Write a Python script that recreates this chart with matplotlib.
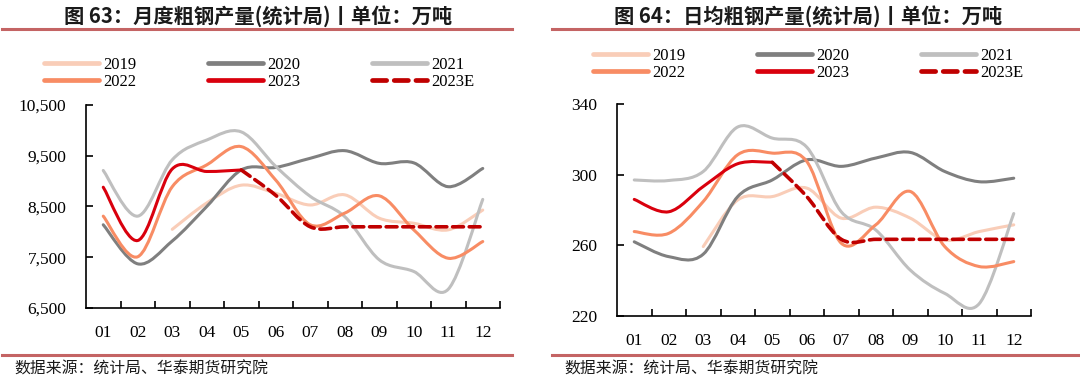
import matplotlib
matplotlib.use('Agg')
import matplotlib.pyplot as plt
from matplotlib.path import Path
from matplotlib.patches import PathPatch
from matplotlib.lines import Line2D
from matplotlib.ticker import FuncFormatter

# ---- data ----
months = ['01', '02', '03', '04', '05', '06', '07', '08', '09', '10', '11', '12']

# 月度粗钢产量 (万吨)
m2019 = [None, None, 8050, 8570, 8920, 8760, 8530, 8730, 8270, 8170, 8040, 8430]
m2020 = [8140, 7370, 7820, 8500, 9220, 9270, 9450, 9600, 9350, 9360, 8890, 9250]
m2021 = [9210, 8310, 9420, 9810, 9970, 9290, 8700, 8300, 7450, 7220, 6870, 8640]
m2022 = [8310, 7510, 8890, 9320, 9680, 9020, 8140, 8370, 8710, 8040, 7480, 7810]
m2023 = [8880, 7830, 9240, 9190, 9220, None, None, None, None, None, None, None]
m2023e = [None, None, None, None, 9220, 8720, 8100, 8100, 8100, 8100, 8100, 8100]

# 日均粗钢产量 (万吨)
d2019 = [None, None, 259.3, 285.7, 287.6, 292.4, 275.4, 281.6, 275.4, 263.0, 267.8, 271.6]
d2020 = [262.0, 253.6, 255.0, 287.6, 297.0, 308.4, 304.7, 309.4, 312.6, 301.8, 296.0, 298.0]
d2021 = [297.0, 296.7, 301.8, 327.0, 320.7, 315.6, 279.0, 268.7, 246.0, 232.8, 227.0, 278.0]
d2022 = [267.8, 266.8, 284.8, 311.3, 312.2, 307.5, 261.2, 271.6, 290.5, 259.3, 248.0, 250.8]
d2023 = [286.0, 279.0, 293.3, 306.2, 307.0, None, None, None, None, None, None, None]
d2023e = [None, None, None, None, 307.0, 287.6, 263.4, 263.4, 263.4, 263.4, 263.4, 263.4]

labels = ['2019', '2020', '2021', '2022', '2023', '2023E']
colors = ['#F9CDB8', '#7F7F7F', '#BFBFBF', '#F88C64', '#D9000D', '#C00000']
styles = ['-', '-', '-', '-', '-', (0, (3.0, 1.6))]

CJK = ['Noto Sans CJK SC', 'DejaVu Sans']
SERIF = 'Liberation Serif'
RULE = '#C46464'


def smooth_path(vals):
    # Excel-style smoothed line: cubic bezier through the points
    pts = [(i + 1, v) for i, v in enumerate(vals) if v is not None]
    verts = [pts[0]]
    codes = [Path.MOVETO]
    n = len(pts)
    for i in range(n - 1):
        p0 = pts[max(i - 1, 0)]
        p1 = pts[i]
        p2 = pts[i + 1]
        p3 = pts[min(i + 2, n - 1)]
        c1 = (p1[0] + (p2[0] - p0[0]) / 6, p1[1] + (p2[1] - p0[1]) / 6)
        c2 = (p2[0] - (p3[0] - p1[0]) / 6, p2[1] - (p3[1] - p1[1]) / 6)
        verts += [c1, c2, p2]
        codes += [Path.CURVE4] * 3
    return Path(verts, codes)


def draw_panel(ax, series, ylim, yticks, fmt):
    for vals, c, ls in zip(series, colors, styles):
        lw = 2.6 if ls != '-' else 2.2
        ax.add_patch(PathPatch(smooth_path(vals), facecolor='none', edgecolor=c,
                               lw=lw, linestyle=ls, capstyle='round', joinstyle='round'))
    ax.set_xlim(0.5, 12.5)
    ax.set_ylim(*ylim)
    ax.set_yticks(yticks)
    ax.yaxis.set_major_formatter(FuncFormatter(fmt))
    ax.set_xticks(range(1, 13))
    ax.set_xticklabels(months)
    ax.set_xticks([x + 0.5 for x in range(1, 13)], minor=True)
    ax.tick_params(axis='x', which='major', length=0, pad=12)
    ax.tick_params(axis='x', which='minor', direction='in', length=5, width=1.2)
    ax.tick_params(axis='y', direction='in', length=5, width=1.2, pad=14)
    for s in ['top', 'right']:
        ax.spines[s].set_visible(False)
    for s in ['left', 'bottom']:
        ax.spines[s].set_linewidth(1.2)
    for t in ax.get_xticklabels() + ax.get_yticklabels():
        t.set_fontfamily(SERIF)
        t.set_fontsize(12.5)


def legend(fig, ax, anchor):
    handles = [Line2D([0], [0], color=c, lw=3.4, linestyle=ls,
                      solid_capstyle='round', dash_capstyle='round')
               for c, ls in zip(colors, styles)]
    order = [0, 3, 1, 4, 2, 5]
    ax.legend([handles[i] for i in order], [labels[i] for i in order], ncol=3,
              loc='upper left', bbox_to_anchor=anchor, bbox_transform=fig.transFigure,
              frameon=False, handlelength=3.3, handletextpad=0.25, columnspacing=4.3,
              labelspacing=0.08, borderpad=0, borderaxespad=0,
              prop={'family': SERIF, 'size': 12})


fig = plt.figure(figsize=(10.8, 3.8), dpi=100)

ax1 = fig.add_axes([86 / 1080, 1 - 308 / 380, 414 / 1080, 203 / 380])
draw_panel(ax1, [m2019, m2020, m2021, m2022, m2023, m2023e],
           (6500, 10500), [6500, 7500, 8500, 9500, 10500], lambda v, p: f'{v:,.0f}')
legend(fig, ax1, (44 / 1080, 1 - 57 / 380))

ax2 = fig.add_axes([617 / 1080, 1 - 316 / 380, 414 / 1080, 212 / 380])
draw_panel(ax2, [d2019, d2020, d2021, d2022, d2023, d2023e],
           (220, 340), [220, 260, 300, 340], lambda v, p: f'{v:.0f}')
legend(fig, ax2, (593 / 1080, 1 - 48 / 380))

# titles, rules and source notes
fig.text(258 / 1080, 1 - 16 / 380, '图 63：月度粗钢产量(统计局)丨单位：万吨', ha='center', va='center',
         family=CJK, fontsize=14.6, fontweight='bold', color='#1a1a1a')
fig.text(808 / 1080, 1 - 16 / 380, '图 64：日均粗钢产量(统计局)丨单位：万吨', ha='center', va='center',
         family=CJK, fontsize=14.6, fontweight='bold', color='#1a1a1a')
for x0, x1 in [(2, 512), (552, 1080)]:
    for y in (29, 355):
        fig.add_artist(Line2D([x0 / 1080, x1 / 1080], [1 - y / 380, 1 - y / 380],
                              color=RULE, lw=2.2, transform=fig.transFigure))
fig.text(14 / 1080, 1 - 369 / 380, '数据来源：统计局、华泰期货研究院', ha='left', va='center',
         family=CJK, fontsize=11.4, color='#1a1a1a')
fig.text(564 / 1080, 1 - 369 / 380, '数据来源：统计局、华泰期货研究院', ha='left', va='center',
         family=CJK, fontsize=11.4, color='#1a1a1a')

fig.savefig('out.png', dpi=100)
